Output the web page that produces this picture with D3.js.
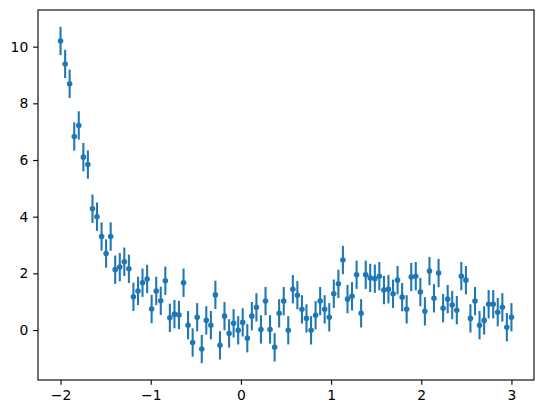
<!DOCTYPE html>
<html>
<head>
<meta charset="utf-8">
<script src="https://cdn.jsdelivr.net/npm/d3@7"></script>
<style>
  html, body { margin: 0; padding: 0; background: #fff; }
  svg { display: block; }
  .tick text { font-family: "DejaVu Sans", sans-serif; font-size: 13.9px; fill: #000; }
</style>
</head>
<body>
<svg id="chart" width="543" height="413"></svg>
<script>
const xValues = [
  -2.000, -1.949, -1.899, -1.848, -1.798, -1.747, -1.697, -1.646, -1.596, -1.545,
  -1.495, -1.444, -1.394, -1.343, -1.293, -1.242, -1.192, -1.141, -1.091, -1.040,
  -0.990, -0.939, -0.889, -0.838, -0.788, -0.737, -0.687, -0.636, -0.586, -0.535,
  -0.485, -0.434, -0.384, -0.333, -0.283, -0.232, -0.182, -0.131, -0.081, -0.030,
   0.020,  0.071,  0.121,  0.172,  0.222,  0.273,  0.323,  0.374,  0.424,  0.475,
   0.525,  0.576,  0.626,  0.677,  0.727,  0.778,  0.828,  0.879,  0.929,  0.980,
   1.030,  1.081,  1.131,  1.182,  1.232,  1.283,  1.333,  1.384,  1.434,  1.485,
   1.535,  1.586,  1.636,  1.687,  1.737,  1.788,  1.838,  1.889,  1.939,  1.990,
   2.040,  2.091,  2.141,  2.192,  2.242,  2.293,  2.343,  2.394,  2.444,  2.495,
   2.545,  2.596,  2.646,  2.697,  2.747,  2.798,  2.848,  2.899,  2.949,  3.000
];
const yValues = [
  10.20, 9.39, 8.69, 6.83, 7.22, 6.10, 5.84, 4.28, 4.00, 3.30,
  2.70, 3.30, 2.13, 2.22, 2.41, 2.16, 1.17, 1.38, 1.67, 1.80,
  0.74, 1.38, 1.03, 1.74, 0.43, 0.56, 0.53, 1.67, 0.17, -0.44,
  0.45, -0.67, 0.34, 0.17, 1.24, -0.54, 0.49, -0.12, 0.24, -0.01,
  0.27, -0.29, 0.49, 0.80, 0.02, 1.02, 0.02, -0.61, 0.59, 1.02,
  -0.01, 1.44, 1.23, 0.73, 0.41, -0.01, 0.52, 1.02, 0.73, 0.45,
  1.28, 1.63, 2.47, 1.09, 1.19, 1.95, 0.59, 1.95, 1.84, 1.81,
  1.90, 1.41, 1.44, 1.28, 1.76, 1.16, 0.73, 1.87, 1.90, 1.34,
  0.66, 2.08, 1.12, 2.01, 0.77, 1.09, 0.88, 0.70, 1.90, 1.76,
  0.41, 1.02, 0.17, 0.34, 0.91, 0.91, 0.63, 0.80, 0.10, 0.45
];
const yErr = 0.5;
const xTicks = [-2, -1, 0, 1, 2, 3];
const yTicks = [0, 2, 4, 6, 8, 10];

const color = "#1f77b4";
const margin = { left: 38, top: 10, right: 9, bottom: 33 };
const W = 543, H = 413;
const iw = W - margin.left - margin.right;   // 496
const ih = H - margin.top - margin.bottom;   // 370

const data = xValues.map((x, i) => ({ x, y: yValues[i] }));

const xMin = d3.min(xValues), xMax = d3.max(xValues);
const yMin = d3.min(yValues) - yErr, yMax = d3.max(yValues) + yErr;
const xPad = (xMax - xMin) * 0.05, yPad = (yMax - yMin) * 0.05;

const x = d3.scaleLinear().domain([xMin - xPad, xMax + xPad]).range([0, iw]);
const y = d3.scaleLinear().domain([yMin - yPad, yMax + yPad]).range([ih, 0]);

const svg = d3.select("#chart");
const g = svg.append("g").attr("transform", `translate(${margin.left},${margin.top})`);

const fmt = d => d < 0 ? "\u2212" + Math.abs(d) : String(d);

const xAxis = g.append("g")
  .attr("transform", `translate(0,${ih})`)
  .call(d3.axisBottom(x).tickValues(xTicks).tickFormat(fmt).tickSize(4.86).tickPadding(4.86).tickSizeOuter(0));
const yAxis = g.append("g")
  .call(d3.axisLeft(y).tickValues(yTicks).tickFormat(fmt).tickSize(4.86).tickPadding(4.86).tickSizeOuter(0));

[xAxis, yAxis].forEach(a => {
  a.select(".domain").remove();
  a.selectAll(".tick line").attr("stroke", "#000").attr("stroke-width", 1.11);
});
xAxis.selectAll(".tick text").attr("dy", "0.71em");

// spines
g.append("rect")
  .attr("x", 0).attr("y", 0).attr("width", iw).attr("height", ih)
  .attr("fill", "none").attr("stroke", "#000").attr("stroke-width", 1.11);

const plot = g.append("g");

plot.selectAll("line.err").data(data).enter().append("line")
  .attr("class", "err")
  .attr("x1", d => x(d.x)).attr("x2", d => x(d.x))
  .attr("y1", d => y(d.y - yErr)).attr("y2", d => y(d.y + yErr))
  .attr("stroke", color).attr("stroke-width", 2.08);

plot.selectAll("circle.pt").data(data).enter().append("circle")
  .attr("class", "pt")
  .attr("cx", d => x(d.x)).attr("cy", d => y(d.y))
  .attr("r", 2.1)
  .attr("fill", color).attr("stroke", color).attr("stroke-width", 1.39);
</script>
</body>
</html>
